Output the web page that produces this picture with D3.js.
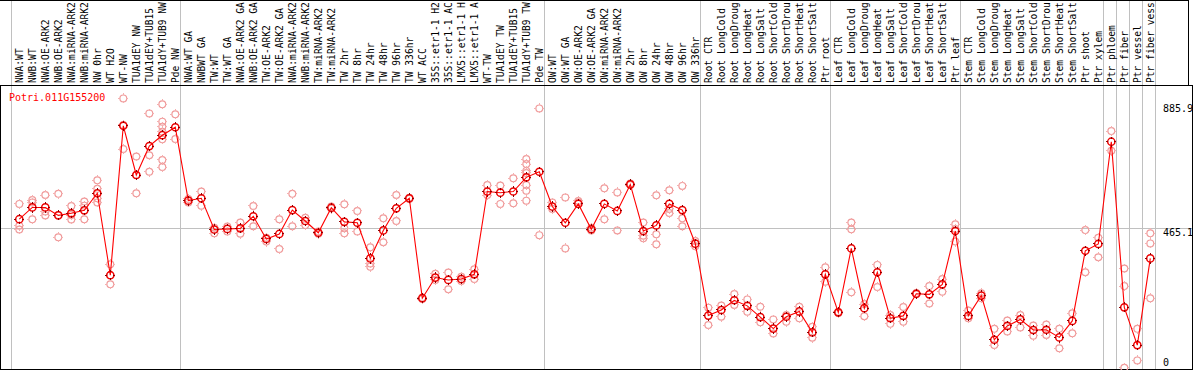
<!DOCTYPE html>
<html><head><meta charset="utf-8">
<script src="https://cdn.jsdelivr.net/npm/d3@7"></script>
<style>body{margin:0;background:#fff}svg{display:block}</style>
</head><body><div id="chart"></div>
<script>
const geneId = "Potri.011G155200";

const categories = [
  "NWA:WT","NWB:WT","NWA:OE-ARK2","NWB:OE-ARK2","NWA:miRNA-ARK2","NWB:miRNA-ARK2","NW 0hr","WT H2O","WT-NW",
  "TUA1dEY NW","TUA1dEY+TUB15","TUA1dY+TUB9 NW","Pde NW",
  "NWA:WT GA","NWBWT GA","TW:WT","TW:WT GA","NWA:OE-ARK2 GA","NWB:OE-ARK2 GA","TW:OE-ARK2","TW:OE-ARK2 GA",
  "NWA:miRNA-ARK2","NWB:miRNA-ARK2","TW:miRNA-ARK2","TW:miRNA-ARK2","TW 2hr","TW 8hr","TW 24hr","TW 48hr",
  "TW 96hr","TW 336hr","WT ACC","35S::etr1-1 H2","35S::etr1-1 AC","LMX5::etr1-1 H","LMX5::etr1-1 A",
  "WT-TW","TUA1dEY TW","TUA1dEY+TUB15","TUA1dY+TUB9 TW","Pde TW",
  "OW:WT","OW:WT GA","OW:OE-ARK2","OW:OE-ARK2 GA","OW:miRNA-ARK2","OW:miRNA-ARK2","OW 2hr","OW 8hr","OW 24hr",
  "OW 48hr","OW 96hr","OW 336hr",
  "Root CTR","Root LongCold","Root LongDroug","Root LongHeat","Root LongSalt","Root ShortCold","Root ShortDrou",
  "Root ShortHeat","Root ShortSalt","Ptr root",
  "Leaf CTR","Leaf LongCold","Leaf LongDroug","Leaf LongHeat","Leaf LongSalt","Leaf ShortCold","Leaf ShortDrou",
  "Leaf ShortHeat","Leaf ShortSalt","Ptr leaf",
  "Stem CTR","Stem LongCold","Stem LongDroug","Stem LongHeat","Stem LongSalt","Stem ShortCold","Stem ShortDrou",
  "Stem ShortHeat","Stem ShortSalt","Ptr shoot","Ptr xylem",
  "Ptr phloem","Ptr fiber","Ptr vessel","Ptr fiber vess"
];

const groupSizes = [13, 28, 12, 10, 10, 11, 1, 1, 1, 1];

const meanValues = [
  496,536,536,509,516,526,584,306,813,646,
  744,781,808,559,567,461,463,465,506,429,
  446,527,490,450,535,487,484,363,458,533,
  567,228,298,290,293,309,590,586,590,638,
  657,539,484,548,462,548,524,614,456,475,
  548,527,413,169,188,221,202,164,125,165,
  183,112,309,180,397,194,316,160,168,243,
  241,275,456,168,237,87,134,156,120,121,
  95,151,389,412,759,197,69,363
];

const replicateValues = [
  [548,474,461],[561,553,496],[578,522,509],[582,510,435],[541,510,495],
  [556,542,496],[628,599,567,553],[343,306,275],[906,816,734],[709,646,584],
  [855,713,657],[886,827,810,793,767,697,673],[852,768],[565,553],[590,542],
  [467,448],[471,454],[485,447],[541,472],[433,420],
  [496,395],[582,472],[501,476],[454,447],[539,532],
  [547,465,448],[524,454],[401,346,335],[499,418],[578,490],
  [569,565],[230,225],[311,290],[315,258],[301,286],
  [326,293],[612,578],[610,548],[635,550],[700,683,660,653,612,593,559],
  [872,442],[553,531],[570,397],[558,553],[467,458],
  [601,496],[587,458],[617,612],[485,440,431],[577,445,411],
  [594,531,517],[609,499,472],[422,404],[196,137],[203,165],
  [242,205],[224,182],[199,146],[156,108],[171,148],
  [199,160],[131,94],[333,284],[182,178],[485,462,248],
  [208,167],[341,266],[171,141],[198,148],[246,241],
  [269,210],[293,250],[479,463,420],[186,160],[245,228],
  [124,69],[152,115],[171,129],[135,101],[139,103],
  [124,58],[177,109],[459,316],[433,367],[795,728],
  [329,269,-8],[124,17],[448,414,228]
];

const tickValues = [0, 465.1, 885.9];
const gridValues = [465.1];

const W = 1194, H = 370;
const headerBottom = 85, plotBottom = 369, plotRight = 1192;
const monoFont = "'DejaVu Sans Mono', monospace";

const svg = d3.select("#chart").append("svg").attr("width", W).attr("height", H);

const idx = d3.range(categories.length);
const x = d3.scaleBand().domain(idx).range([11, 11 + 13 * categories.length]).paddingInner(0).paddingOuter(0);
const px = i => x(i) + 8.3;
const y = d3.scaleLinear().domain([0, 885.9]).range([365.4, 104.3]);

// group boundaries
const starts = [];
let acc = 0;
groupSizes.forEach(s => { starts.push(acc); acc += s; });
const boundaryX = starts.map(s => x(s)).concat([x(categories.length - 1) + x.bandwidth()]);

const grid = svg.append("g").attr("shape-rendering", "crispEdges");
grid.selectAll("line.v").data(boundaryX).join("line")
  .attr("x1", d => Math.round(d) + 0.5).attr("x2", d => Math.round(d) + 0.5)
  .attr("y1", 0).attr("y2", plotBottom)
  .attr("stroke", "#c0c0c0").attr("stroke-width", 1);
grid.selectAll("line.h").data(gridValues).join("line")
  .attr("x1", 0).attr("x2", plotRight)
  .attr("y1", d => Math.round(y(d)) + 0.5).attr("y2", d => Math.round(y(d)) + 0.5)
  .attr("stroke", "#c0c0c0").attr("stroke-width", 1);

// frame
const frame = svg.append("g").attr("shape-rendering", "crispEdges").attr("stroke", "#000").attr("fill", "none");
frame.append("rect").attr("x", 0.5).attr("y", headerBottom + 0.5).attr("width", plotRight - 0.5).attr("height", plotBottom - headerBottom);
frame.append("line").attr("x1", 0).attr("x2", 1188.5).attr("y1", 0.5).attr("y2", 0.5);
frame.append("line").attr("x1", 1188.5).attr("x2", 1188.5).attr("y1", 0).attr("y2", headerBottom);

// header labels
svg.append("g").selectAll("text").data(idx).join("text")
  .attr("transform", i => `translate(${px(i) + 3.3},83) rotate(-90)`)
  .attr("font-family", monoFont).attr("font-size", 9.6)
  .attr("fill", "#000")
  .text(i => categories[i]);

// gene label
svg.append("text").attr("x", 9).attr("y", 101)
  .attr("font-family", monoFont).attr("font-size", 10).attr("fill", "#ff0000")
  .text(geneId);

// y tick labels
svg.append("g").selectAll("text").data(tickValues).join("text")
  .attr("x", 1163)
  .attr("y", d => Math.min(y(d) + 8, 366))
  .attr("font-family", monoFont).attr("font-size", 10).attr("fill", "#000")
  .text(d => d === 0 ? "0" : d3.format(".1f")(d));

// marker helper
function marker(g, r, color, sw, tickColor) {
  g.append("circle").attr("r", r).attr("fill", "none").attr("stroke", color).attr("stroke-width", sw);
  g.append("path")
    .attr("d", `M0,${-r - 1.5}V${-r + 0.5}M0,${r - 0.5}V${r + 1.5}M${-r - 1.5},0H${-r + 0.5}M${r - 0.5},0H${r + 1.5}`)
    .attr("stroke", tickColor).attr("stroke-width", 1).attr("shape-rendering", "crispEdges");
}

// replicate points
const reps = [];
replicateValues.forEach((arr, i) => arr.forEach(v => reps.push({ i, v })));
svg.append("g").selectAll("g").data(reps).join("g")
  .attr("transform", d => `translate(${px(d.i)},${y(d.v)})`)
  .each(function () { marker(d3.select(this), 3.4, "#f09a9a", 1.2, "#f4b0b0"); });

// mean line
svg.append("path").datum(idx)
  .attr("fill", "none").attr("stroke", "#ff0000").attr("stroke-width", 1.1)
  .attr("d", d3.line().x(i => px(i)).y(i => y(meanValues[i])));

// mean points
svg.append("g").selectAll("g").data(idx).join("g")
  .attr("transform", i => `translate(${px(i)},${y(meanValues[i])})`)
  .each(function () { marker(d3.select(this), 3.6, "#ee0000", 1.5, "#900000"); });
</script>
</body></html>
